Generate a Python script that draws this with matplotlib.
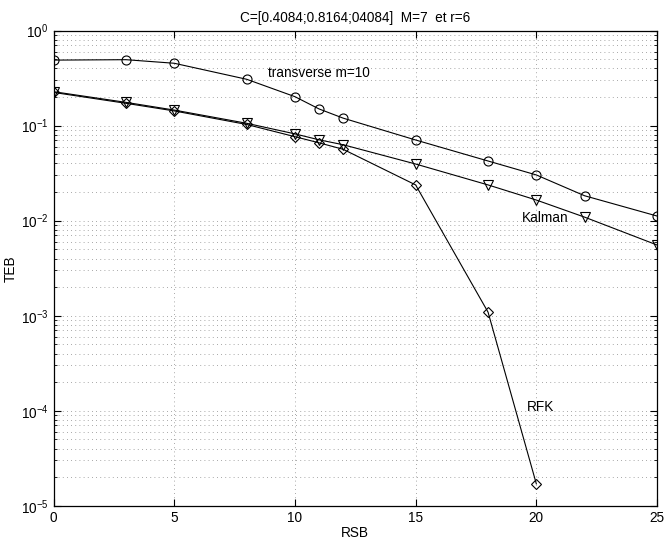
import numpy as np
import matplotlib
matplotlib.use("Agg")
import matplotlib.pyplot as plt
from matplotlib.ticker import LogLocator, NullFormatter

plt.rcParams['font.family'] = ['Liberation Sans', 'DejaVu Sans']

# data
rsb_transverse = [0, 3, 5, 8, 10, 11, 12, 15, 18, 20, 22, 25]
teb_transverse = [0.49, 0.495, 0.454, 0.308, 0.202, 0.15, 0.12, 0.0707, 0.0425, 0.0303, 0.0183, 0.0112]

rsb_kalman = [0, 3, 5, 8, 10, 11, 12, 15, 18, 20, 22, 25]
teb_kalman = [0.228, 0.176, 0.146, 0.106, 0.082, 0.071, 0.063, 0.0395, 0.0238, 0.0165, 0.0109, 0.00555]

rsb_rfk = [0, 3, 5, 8, 10, 11, 12, 15, 18, 20]
teb_rfk = [0.224, 0.172, 0.143, 0.103, 0.0766, 0.066, 0.0564, 0.0238, 0.00109, 1.7e-5]

title = "C=[0.4084;0.8164;04084]  M=7  et r=6"
fs = 9.8

fig = plt.figure(figsize=(6.64, 5.41), dpi=100)
ax = fig.add_axes([0.0806, 0.0652, 0.9089, 0.8781])

mk = dict(color='black', linewidth=0.8, markerfacecolor='none',
          markeredgecolor='black', markeredgewidth=0.8, markersize=6.5)
ax.semilogy(rsb_transverse, teb_transverse, marker='o', **mk)
ax.semilogy(rsb_kalman, teb_kalman, marker='v', **mk)
ax.semilogy(rsb_rfk, teb_rfk, marker='D', **dict(mk, markersize=5))

ax.set_xlim(0, 25)
ax.set_ylim(1e-5, 1)
ax.set_xticks([0, 5, 10, 15, 20, 25])
ax.yaxis.set_major_locator(LogLocator(base=10, numticks=10))
ax.yaxis.set_minor_locator(LogLocator(base=10, subs=np.arange(2, 10), numticks=20))
ax.yaxis.set_minor_formatter(NullFormatter())

grid_style = dict(linestyle=(0, (1, 4)), color='#8a8a8a', linewidth=0.6)
ax.grid(True, which='major', axis='x', **grid_style)
ax.grid(True, which='both', axis='y', **grid_style)

ax.tick_params(which='both', direction='in', top=True, right=True, labelsize=fs)
ax.tick_params(which='major', length=5, width=0.8)
ax.tick_params(which='minor', length=2.5, width=0.6)
for s in ax.spines.values():
    s.set_linewidth(0.9)

ax.set_xlabel('RSB', fontsize=fs, labelpad=1)
ax.set_ylabel('TEB', fontsize=fs, labelpad=2)
ax.set_title(title, fontsize=fs, pad=6)

ax.text(8.9, 0.36, 'transverse m=10', fontsize=fs, va='center', ha='left')
ax.text(19.4, 0.0108, 'Kalman', fontsize=fs, va='center', ha='left')
ax.text(19.6, 1.1e-4, 'RFK', fontsize=fs, va='center', ha='left')

fig.savefig('out.png', dpi=100)
